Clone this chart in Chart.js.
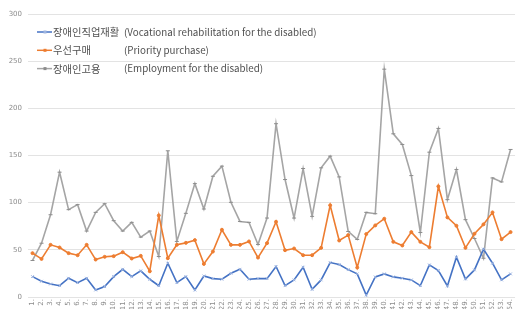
<!DOCTYPE html>
<html>
<head>
<meta charset="utf-8">
<script src="https://cdn.jsdelivr.net/npm/chart.js@4"></script>
<style>
  html, body { margin: 0; padding: 0; background: #fff; }
  #wrap { width: 521px; height: 309px; }
</style>
</head>
<body>
<div id="wrap"><canvas id="line-chart" width="521" height="309"></canvas></div>
<script>
// x labels: 1. ... 54.
const labels = ['1.', '2.', '3.', '4.', '5.', '6.', '7.', '8.', '9.', '10.',
  '11.', '12.', '13.', '14.', '15.', '16.', '17.', '18.', '19.', '20.',
  '21.', '22.', '23.', '24.', '25.', '26.', '27.', '28.', '29.', '30.',
  '31.', '32.', '33.', '34.', '35.', '36.', '37.', '38.', '39.', '40.',
  '41.', '42.', '43.', '44.', '45.', '46.', '47.', '48.', '49.', '50.',
  '51.', '52.', '53.', '54.']

// series names (korean, english)
const seriesKo = ['장애인직업재활', '우선구매', '장애인고용']
const seriesEn = ['(Vocational rehabilitation for the disabled)', '(Priority purchase)', '(Employment for the disabled)']

const vocational = [21.6, 16.7, 13.8, 12, 19.9, 15.2, 19.9, 7.4, 11, 21.6,
  29.4, 21.6, 27.7, 18.8, 12, 35.8, 15.2, 21.6, 7.4, 22.3,
  19.5, 18.8, 25.2, 29.4, 18.8, 19.5, 19.5, 32.3, 12, 18.1,
  31.6, 8.2, 18.1, 36.5, 34.4, 29, 24.5, 2.1, 21.3, 24.5,
  21.3, 19.9, 18.1, 12.1, 34, 28, 11.7, 42.2, 19.1, 28.7,
  50.7, 35.8, 18.1, 24.5]

const priority = [46.5, 40.4, 55.3, 52.5, 46.5, 44.3, 55.3, 39.7, 42.6, 43.3,
  47.5, 40.8, 43.6, 27.3, 86.5, 41.1, 55.3, 57.4, 60.3, 35.1,
  48.2, 71.3, 55.3, 55.3, 58.9, 41.8, 57.1, 79.8, 49.6, 51.4,
  44.3, 44.3, 52.1, 97.2, 59.9, 65.6, 31.2, 66.7, 75.9, 83,
  58.5, 54.6, 68.8, 58.5, 52.8, 117.3, 84.4, 75.5, 52.1, 67,
  77, 89.7, 61.3, 68.8]

const employment = [38.7, 57, 87.2, 132.3, 92.6, 97.9, 69.9, 89.7, 98.9, 80.9,
  69.9, 79.1, 63.5, 69.9, 42.9, 155, 58.9, 88.7, 120.2, 93.3,
  128, 138.7, 100.4, 80.1, 79.1, 55.7, 83.7, 183.7, 124.5, 83.7,
  136.2, 85.5, 136.9, 149.3, 127.3, 69.5, 61, 89.7, 88.3, 241.5,
  173, 161.7, 128.7, 68.4, 153.5, 178.7, 103.2, 135.1, 82, 62,
  41.1, 126.2, 122, 156.4]

const yTicks = [0, 50, 100, 150, 200, 250, 300]

const colors = ['#4472c4', '#ed7d31', '#a5a5a5']

// legend drawn inside the plot, top left
const insideLegend = {
  id: 'insideLegend',
  afterDraw(chart) {
    const ctx = chart.ctx
    ctx.save()
    chart.data.datasets.forEach((ds, i) => {
      const y = 32 + i * 18.3
      ctx.strokeStyle = ds.borderColor
      ctx.lineWidth = 1.5
      ctx.beginPath()
      ctx.moveTo(37, y)
      ctx.lineTo(52, y)
      ctx.stroke()
      ctx.fillStyle = ds.pointBorderColor
      ctx.fillRect(43.5, y - 1.5, 3, 3)
      ctx.fillStyle = '#505050'
      ctx.textBaseline = 'middle'
      ctx.font = '10.3px "Noto Sans CJK KR"'
      ctx.fillText(seriesKo[i], 53, y)
      ctx.font = '9.8px "Noto Sans CJK KR"'
      ctx.fillText(seriesEn[i], 124, y)
    })
    ctx.restore()
  }
}

const chartCanvas = document.querySelector('#line-chart')

new Chart(chartCanvas, {
  type: 'line',
  data: {
    labels: labels,
    datasets: [
      {
        label: seriesKo[0],
        data: vocational,
        borderColor: colors[0],
        backgroundColor: colors[0],
        pointStyle: 'crossRot',
        pointBorderColor: '#9db4e0',
        pointRadius: 2,
        pointBorderWidth: 1,
      },
      {
        label: seriesKo[1],
        data: priority,
        borderColor: colors[1],
        backgroundColor: colors[1],
        pointStyle: 'circle',
        pointBorderColor: colors[1],
        pointRadius: 1.5,
      },
      {
        label: seriesKo[2],
        data: employment,
        borderColor: colors[2],
        backgroundColor: colors[2],
        pointStyle: 'line',
        pointBorderColor: '#8c8c8c',
        pointRadius: 2,
        pointBorderWidth: 1,
      },
    ],
  },
  options: {
    responsive: false,
    animation: false,
    elements: { line: { borderWidth: 1.6, tension: 0 } },
    layout: { padding: { top: 14, right: 0, left: 0, bottom: 0 } },
    plugins: {
      legend: { display: false },
      tooltip: { enabled: false },
    },
    scales: {
      x: {
        offset: true,
        grid: { display: false, drawTicks: false, tickLength: 0 },
        border: { display: false },
        ticks: {
          color: '#8c8c8c',
          font: { size: 7, family: 'DejaVu Sans' },
          autoSkip: false,
          minRotation: 90,
          maxRotation: 90,
          padding: 2,
        },
        afterFit(scale) { scale.height = 12 },
      },
      y: {
        min: 0,
        max: 300,
        afterBuildTicks(scale) { scale.ticks = yTicks.map(v => ({ value: v })) },
        grid: { color: '#e3e3e3', drawTicks: false },
        border: { display: false },
        ticks: {
          color: '#8c8c8c',
          font: { size: 7, family: 'DejaVu Sans' },
          padding: 6,
        },
        afterFit(scale) { scale.width = 28 },
      },
    },
  },
  plugins: [insideLegend],
})
</script>
</body>
</html>
